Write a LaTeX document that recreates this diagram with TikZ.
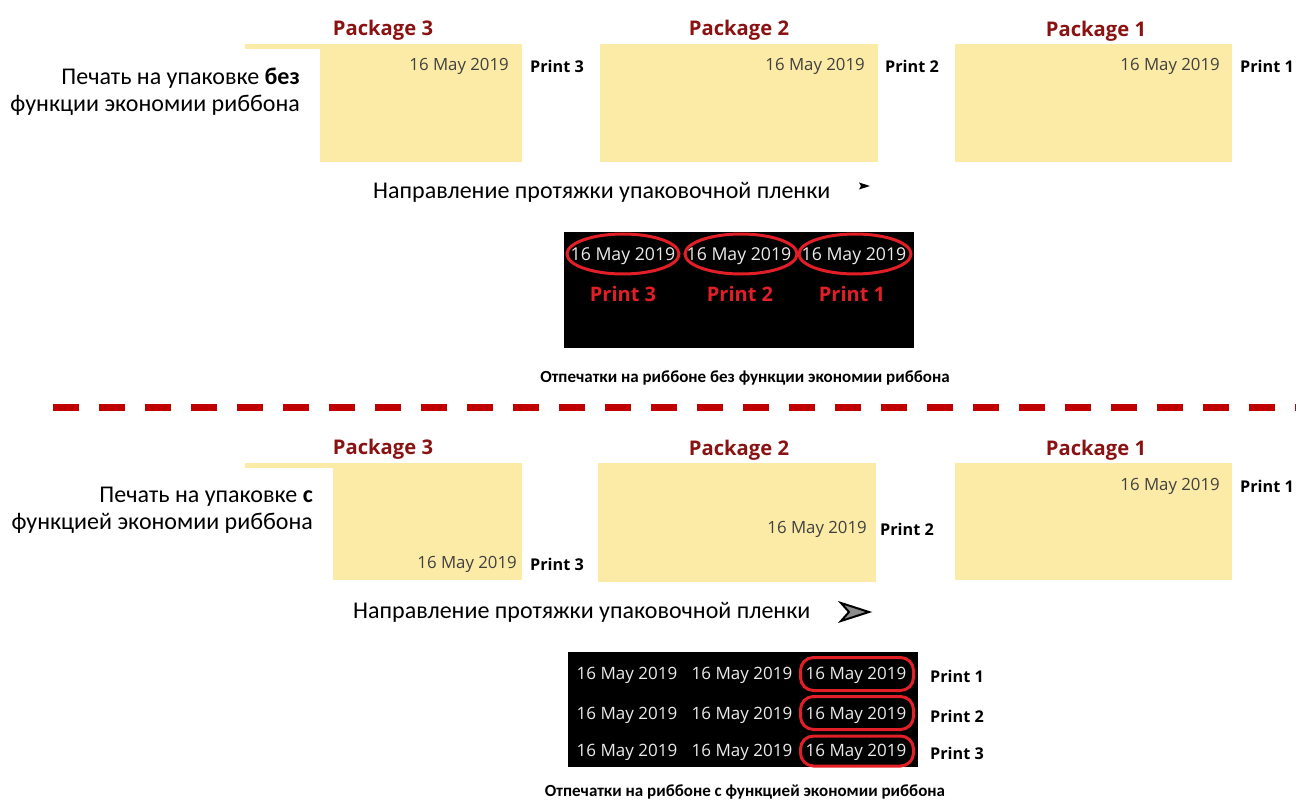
\documentclass[tikz,border=0pt]{standalone}
\usepackage{fontspec}
\setmainfont{Open Sans}
\newfontfamily\calib{Carlito}
\begin{document}
\begin{tikzpicture}[x=1pt,y=-1pt,
  pkgtitle/.style={font=\bfseries\fontsize{20.2}{22}\selectfont,text=pkgred,inner sep=0},
  datelbl/.style={font=\fontsize{16.8}{19}\selectfont,text=black!75,inner sep=0,anchor=east},
  printlbl/.style={font=\bfseries\fontsize{16.2}{19}\selectfont,inner sep=0,anchor=west},
  sidelbl/.style={font=\calib\fontsize{24}{27}\selectfont,inner sep=0,align=right,anchor=east},
  dirlbl/.style={font=\calib\fontsize{24}{26}\selectfont,inner sep=0,anchor=west},
  caption/.style={font=\calib\bfseries\fontsize{17}{20}\selectfont,inner sep=0},
  ribdate/.style={font=\fontsize{17.7}{20}\selectfont,text=white!92!black,inner sep=0},
  ribdateb/.style={font=\fontsize{17}{20}\selectfont,text=white!92!black,inner sep=0},
  redprint/.style={font=\bfseries\fontsize{20}{22}\selectfont,text=ribred,inner sep=0},
  ring/.style={draw=ribred,line width=3pt,ellipse,minimum width=112pt,minimum height=40pt},
  rring/.style={draw=ribred,line width=3pt,rounded corners=13pt,minimum width=113pt,minimum height=33pt,inner sep=0},
]
\definecolor{pkgyellow}{HTML}{FCEBA6}
\definecolor{pkgred}{HTML}{8A1212}
\definecolor{ribred}{HTML}{E21F26}
\definecolor{dashred}{HTML}{C00000}
\useasboundingbox (0,0) rectangle (1296,802);
\usetikzlibrary{shapes.geometric}
% ---------------- top section ----------------
\fill[pkgyellow] (245,44) rectangle (522,162);
\fill[white] (245,49) rectangle (320,163);
\fill[pkgyellow] (600,44) rectangle (878,162);
\fill[pkgyellow] (955,44) rectangle (1232,162);
\node[pkgtitle] (t3) at (383,30) {Package 3};
\node[pkgtitle] (t2) at (739,30) {Package 2};
\node[pkgtitle] (t1) at (1096,31) {Package 1};
\node[datelbl] (d3) at (509,66.5) {16 May 2019};
\node[datelbl] (d2) at (865,66.5) {16 May 2019};
\node[datelbl] (d1) at (1220,66.5) {16 May 2019};
\node[printlbl] (p3) at (530,66) {Print 3};
\node[printlbl] (p2) at (885,66) {Print 2};
\node[printlbl] (p1) at (1240,66) {Print 1};
\node[sidelbl] (side1) at (300,92) {Печать на упаковке \textbf{без}\\функции экономии риббона};
\node[dirlbl] (dir1) at (373,192) {Направление протяжки упаковочной пленки};
\fill[black] (859,182.5) -- (870,186) -- (859,189.5) -- (861,186) -- cycle;
\fill[black] (564,232) rectangle (914,348);
\node[ribdate] (r1) at (623,256) {16 May 2019};
\node[ribdate] (r2) at (739,256) {16 May 2019};
\node[ribdate] (r3) at (854,256) {16 May 2019};
\node[ring] (e1) at (623,254) {};
\node[ring] (e2) at (741,254) {};
\node[ring] (e3) at (855,254) {};
\node[redprint] (rp3) at (623,294) {Print 3};
\node[redprint] (rp2) at (740,294) {Print 2};
\node[redprint] (rp1) at (852,294) {Print 1};
\node[caption] (cap1) at (745,378) {Отпечатки на риббоне без функции экономии риббона};
% ---------------- divider ----------------
\draw[dashred,line width=7pt,dash pattern=on 26pt off 20pt] (53,407) -- (1296,407);
% ---------------- bottom section ----------------
\fill[pkgyellow] (245,463) rectangle (522,580);
\fill[white] (245,468) rectangle (333,581);
\fill[pkgyellow] (598,463) rectangle (876,582);
\fill[pkgyellow] (955,463) rectangle (1232,580);
\node[pkgtitle] (b3) at (383,449) {Package 3};
\node[pkgtitle] (b2) at (739,450) {Package 2};
\node[pkgtitle] (b1) at (1096,450) {Package 1};
\node[datelbl] (bd3) at (517,564.5) {16 May 2019};
\node[datelbl] (bd2) at (867,529.5) {16 May 2019};
\node[datelbl] (bd1) at (1220,486.5) {16 May 2019};
\node[printlbl] (bp3) at (530,564) {Print 3};
\node[printlbl] (bp2) at (880,529) {Print 2};
\node[printlbl] (bp1) at (1240,486) {Print 1};
\node[sidelbl] (side2) at (313,510) {Печать на упаковке \textbf{с}\\функцией экономии риббона};
\node[dirlbl] (dir2) at (353,612) {Направление протяжки упаковочной пленки};
\filldraw[fill=black!45,draw=black,line width=2pt,line join=miter] (841,603) -- (869,612) -- (841,621) -- (849,612) -- cycle;
\fill[black] (568,652) rectangle (918,767);
\foreach \r/\y in {1/675,2/715,3/752}{
  \node[ribdateb] (c\r a) at (627,\y) {16 May 2019};
  \node[ribdateb] (c\r b) at (742,\y) {16 May 2019};
  \node[ribdateb] (c\r c) at (856,\y) {16 May 2019};
}
\node[rring] (q1) at (857,674) {};
\node[rring] (q2) at (857,713) {};
\node[rring,minimum height=30pt] (q3) at (857,751) {};
\node[printlbl] (lp1) at (930,676) {Print 1};
\node[printlbl] (lp2) at (930,716) {Print 2};
\node[printlbl] (lp3) at (930,753) {Print 3};
\node[caption] (cap2) at (745,792) {Отпечатки на риббоне с функцией экономии риббона};
\end{tikzpicture}
\end{document}
